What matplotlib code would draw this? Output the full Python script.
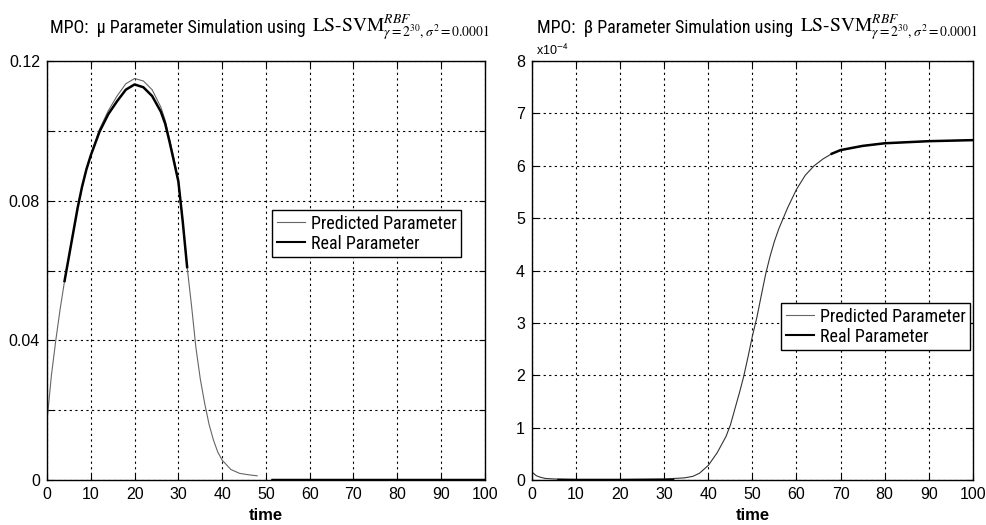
import os
import matplotlib
matplotlib.use("Agg")
import matplotlib.pyplot as plt
from matplotlib import font_manager
import numpy as np
from matplotlib.lines import Line2D

plt.rcParams['mathtext.fontset'] = 'stix'

# --- mu parameter (left panel) ---
mu_t = [0, 1, 2, 3, 4, 5, 6, 7, 8, 9, 10, 12, 14, 16, 18, 20, 22, 24, 26, 27, 28,
        29, 30, 31, 32, 33, 34, 35, 36, 37, 38, 39, 40, 42, 44, 46, 48]
mu_pred = [0.017, 0.030, 0.040, 0.049, 0.057, 0.064, 0.071, 0.078, 0.084, 0.089,
           0.093, 0.1005, 0.1058, 0.1100, 0.1135, 0.1150, 0.1143, 0.1118, 0.1068,
           0.1030, 0.0975, 0.0920, 0.0859, 0.0740, 0.061, 0.050, 0.038, 0.029,
           0.022, 0.016, 0.0115, 0.008, 0.0057, 0.0030, 0.0019, 0.0015, 0.0012]
mu_real_t = [4, 5, 6, 7, 8, 9, 10, 12, 14, 16, 18, 20, 22, 24, 26, 27, 28, 29, 30,
             31, 32, None, 51.5, 60, 70, 80, 90, 100]
mu_real = [0.057, 0.064, 0.071, 0.078, 0.084, 0.089, 0.093, 0.0998, 0.1048,
           0.1085, 0.1118, 0.1133, 0.1125, 0.1100, 0.1055, 0.1020, 0.0968,
           0.0912, 0.0855, 0.0740, 0.061, None, 0, 0, 0, 0, 0, 0]

# --- beta parameter (right panel, units of 1e-4) ---
beta_t = [0, 1, 2, 3, 5, 10, 20, 30, 34.5, 36.5, 38, 40, 42, 44, 45, 46, 47, 48,
          49, 50, 51, 52, 53, 54, 55, 56, 57, 58, 60, 62, 64, 66, 68, 70, 75, 80,
          85, 90, 95, 100]
beta_pred = [0.15, 0.08, 0.05, 0.03, 0.02, 0.01, 0.01, 0.02, 0.04, 0.07, 0.13,
             0.28, 0.52, 0.83, 1.05, 1.35, 1.65, 1.97, 2.35, 2.75, 3.10, 3.52,
             3.93, 4.27, 4.56, 4.80, 5.00, 5.20, 5.55, 5.82, 6.00, 6.13, 6.23,
             6.30, 6.38, 6.43, 6.45, 6.47, 6.48, 6.49]
beta_real_t = [6, 10, 20, 32, None, 68, 70, 75, 80, 85, 90, 95, 100]
beta_real = [0, 0, 0, 0, None, 6.23, 6.30, 6.38, 6.43, 6.45, 6.47, 6.48, 6.49]

legend_labels = ['Predicted Parameter', 'Real Parameter']
title_text = ['MPO:  μ Parameter Simulation using ', 'MPO:  β Parameter Simulation using ']
title_math = r'$\mathrm{LS\text{-}SVM}^{RBF}_{\gamma=2^{30},\sigma^2=0.0001}$'

ttf = font_manager.fontManager.ttflist


def find_file(prefix):
    for f in ttf:
        if os.path.basename(f.fname).startswith(prefix):
            return f.fname
    return None


def pick_narrow():
    # pick a condensed face if one is installed
    names = {f.name for f in ttf}
    for n in ['Liberation Sans Narrow', 'Roboto Condensed', 'Open Sans Condensed']:
        if n in names:
            return {'family': n}
    fn = find_file('LiberationSansNarrow-Regular') or find_file('RobotoCondensed-Regular')
    if fn:
        return {'fname': fn}
    return None


narrow = pick_narrow()
arial_reg = find_file('LiberationSans-Regular')
arial_bold = find_file('LiberationSans-Bold.')


def sans_props(size, bold=False):
    fn = arial_bold if bold else arial_reg
    if fn:
        return font_manager.FontProperties(fname=fn, size=size)
    return font_manager.FontProperties(family='DejaVu Sans', size=size,
                                       weight='bold' if bold else 'normal')


def narrow_props(size):
    if narrow is None:
        return font_manager.FontProperties(family='DejaVu Sans', size=size * 0.85)
    if 'fname' in narrow:
        return font_manager.FontProperties(fname=narrow['fname'], size=size)
    return font_manager.FontProperties(family=narrow['family'], size=size)


def to_float(vals):
    return np.array([np.nan if v is None else v for v in vals], dtype=float)


def style_axes(ax):
    ax.set_xlim(0, 100)
    ax.set_xticks(np.arange(0, 101, 10))
    ax.grid(True, color='black', linestyle=(0, (2, 3)), linewidth=0.8)
    ax.tick_params(direction='in', top=True, right=True, length=4, pad=5)
    for s in ax.spines.values():
        s.set_linewidth(1.0)
        s.set_color('black')
    ax.set_xlabel('time', fontproperties=sans_props(12, bold=True), labelpad=4)


def fix_ticklabels(ax):
    for lab in ax.get_xticklabels() + ax.get_yticklabels():
        lab.set_fontproperties(sans_props(11.5))


fig = plt.figure(figsize=(9.86, 5.25), dpi=100)
ax1 = fig.add_axes([0.0477, 0.0857, 0.444, 0.798])
ax2 = fig.add_axes([0.5396, 0.0857, 0.447, 0.798])

# left panel
ax1.plot(mu_t, mu_pred, color='0.4', linewidth=0.8)
ax1.plot(to_float(mu_real_t), to_float(mu_real), color='black', linewidth=1.8)
style_axes(ax1)
ax1.set_ylim(0, 0.12)
ax1.set_yticks(np.arange(0, 0.1201, 0.02))
ax1.set_yticklabels(['0', '', '0.04', '', '0.08', '', '0.12'])
fix_ticklabels(ax1)

# right panel
ax2.plot(beta_t, beta_pred, color='0.2', linewidth=0.8)
ax2.plot(to_float(beta_real_t), to_float(beta_real), color='black', linewidth=1.8)
style_axes(ax2)
ax2.set_ylim(0, 8)
ax2.set_yticks(np.arange(0, 9, 1))
ax2.set_yticklabels([str(v) for v in range(9)])
fix_ticklabels(ax2)
ax2.text(0.01, 1.008, r'x10$^{\mathsf{-4}}$', transform=ax2.transAxes,
         fontproperties=sans_props(9), ha='left', va='bottom')

handles = [Line2D([], [], color='0.4', linewidth=0.8),
           Line2D([], [], color='black', linewidth=1.5)]
for ax, anchor in [(ax1, (0.514, 0.644)), (ax2, (0.565, 0.422))]:
    leg = ax.legend(handles, legend_labels, loc='upper left', bbox_to_anchor=anchor,
                    prop=narrow_props(13), fancybox=False,
                    framealpha=1, edgecolor='black', handlelength=1.6,
                    handletextpad=0.3, borderpad=0.25, labelspacing=0.1,
                    borderaxespad=0)
    leg.get_frame().set_linewidth(1.0)

# titles: condensed text followed by the serif LS-SVM part
fig.canvas.draw()
renderer = fig.canvas.get_renderer()
for x0, txt in [(0.051, title_text[0]), (0.545, title_text[1])]:
    t1 = fig.text(x0, 0.937, txt, fontproperties=narrow_props(13),
                  ha='left', va='baseline')
    bb = t1.get_window_extent(renderer)
    fig.text(bb.x1 / fig.bbox.width + 0.002, 0.937, title_math, fontsize=14,
             ha='left', va='baseline')

fig.savefig('out.png', dpi=100)
